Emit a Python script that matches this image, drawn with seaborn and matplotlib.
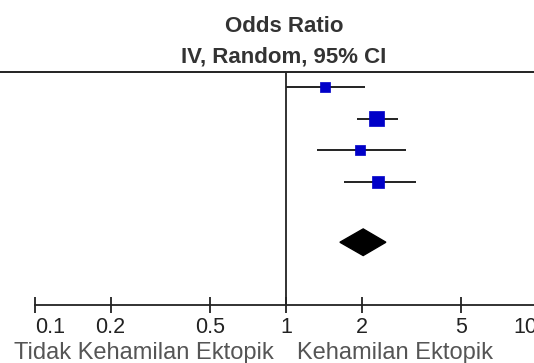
import matplotlib.pyplot as plt
import numpy as np
import pandas as pd
import seaborn as sns
from matplotlib.lines import Line2D

# study estimates (odds ratio, 95% CI)
odds_ratio = [1.43, 2.30, 1.97, 2.33]
ci_lower = [1.00, 1.92, 1.33, 1.70]
ci_upper = [2.06, 2.79, 3.01, 3.29]
weights = [17.5, 38.6, 17.8, 26.1]
rows = [0, 1, 2, 3]

# pooled estimate (diamond)
pooled_or = 2.03
pooled_lower = 1.64
pooled_upper = 2.50
pooled_row = 4.9

tick_values = [0.1, 0.2, 0.5, 1, 2, 5, 10]
tick_labels = ["0.1", "0.2", "0.5", "1", "2", "5", "10"]
left_label = "Tidak Kehamilan Ektopik"
right_label = "Kehamilan Ektopik"

W, H = 534, 363
sns.set_style("white")
plt.rcParams["font.family"] = ["Liberation Sans", "DejaVu Sans"]

fig = plt.figure(figsize=(W / 100, H / 100), dpi=100)
ax = fig.add_axes([35 / W, 1 - 305 / H, 502 / W, (305 - 72) / H])

line_col = "#222222"
df = pd.DataFrame({"or": odds_ratio, "row": rows, "w": weights})

# confidence intervals
ax.hlines(rows, ci_lower, ci_upper, color=line_col, lw=1.4, zorder=2)

# weighted squares
sns.scatterplot(
    data=df, x="or", y="row", size="w",
    sizes=(min(weights) * 3.0, max(weights) * 3.0),
    marker="s", color="#0000c8", edgecolor="#0000c8", linewidth=0.5,
    legend=False, ax=ax, zorder=3,
)

# pooled diamond
half_h = 0.42
ax.fill(
    [pooled_lower, pooled_or, pooled_upper, pooled_or],
    [pooled_row, pooled_row - half_h, pooled_row, pooled_row + half_h],
    color="black", zorder=3,
)

ax.axvline(1, color=line_col, lw=1.3, zorder=1)

ax.set_xscale("log")
ax.set_xlim(0.1, 10)
ax.set_ylim(6.88, -0.47)
ax.set_xlabel("")
ax.set_ylabel("")
ax.set_yticks([])
ax.set_xticks(tick_values)
ax.set_xticklabels(tick_labels)
ax.minorticks_off()
ax.tick_params(axis="x", bottom=True, direction="inout", length=11, width=1.3,
               color=line_col, labelsize=15.5, labelcolor="#222222", pad=3)
labs = ax.get_xticklabels()
labs[0].set_ha("left")
labs[-1].set_ha("right")

for s in ["left", "right", "top"]:
    ax.spines[s].set_visible(False)
ax.spines["bottom"].set_color(line_col)
ax.spines["bottom"].set_linewidth(1.3)
ax.patch.set_alpha(0)

# header
top_y = 1 - 72 / H
fig.add_artist(Line2D([0, 1], [top_y, top_y], transform=fig.transFigure,
                      color=line_col, lw=1.4))
fig.text(284 / W, 1 - 26 / H, "Odds Ratio", ha="center", va="center",
         fontsize=16, fontweight="bold", color="#333333")
fig.text(284 / W, 1 - 57 / H, "IV, Random, 95% CI", ha="center", va="center",
         fontsize=16, fontweight="bold", color="#333333")

# favours labels
fig.text(274 / W, 1 - 359 / H, left_label, ha="right", va="baseline",
         fontsize=17, color="#555555")
fig.text(297 / W, 1 - 359 / H, right_label, ha="left", va="baseline",
         fontsize=17, color="#555555")

fig.savefig("out.png", dpi=100)
